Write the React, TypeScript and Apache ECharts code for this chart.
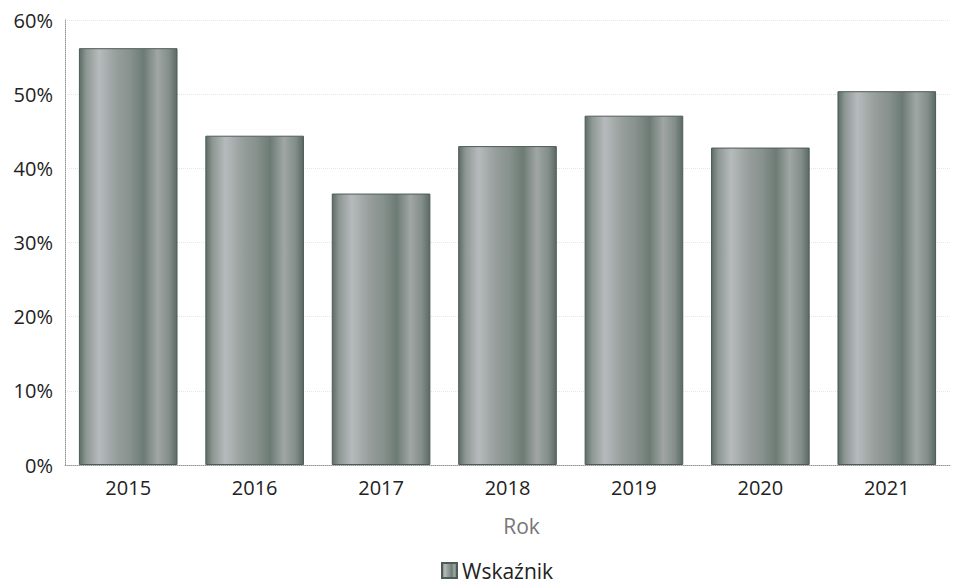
import React, { useEffect, useRef } from "react";
import * as echarts from "echarts";

const years = ["2015", "2016", "2017", "2018", "2019", "2020", "2021"];
const values = [56.2, 44.4, 36.6, 43.0, 47.1, 42.8, 50.4];
const seriesName = "Wskaźnik";
const axisName = "Rok";

export default function App() {
  const ref = useRef<HTMLDivElement>(null);
  useEffect(() => {
    document.body.style.margin = "0";
    if (!ref.current) return;
    const chart = echarts.init(ref.current, null, { renderer: "svg" });
    const barFill = new echarts.graphic.LinearGradient(0, 0, 1, 0, [
      { offset: 0, color: "#5d6c66" },
      { offset: 0.07, color: "#8e9793" },
      { offset: 0.2, color: "#b6babc" },
      { offset: 0.38, color: "#979e9b" },
      { offset: 0.52, color: "#87918d" },
      { offset: 0.66, color: "#6d7b75" },
      { offset: 0.8, color: "#a0a6a4" },
      { offset: 0.92, color: "#838d89" },
      { offset: 1, color: "#5a6963" },
    ]);
    chart.setOption({
      animation: false,
      grid: { left: 65, right: 19, top: 20, bottom: 123, containLabel: false },
      legend: {
        bottom: 2,
        left: 436,
        itemWidth: 15,
        itemHeight: 15,
        itemGap: 6,
        textStyle: { fontSize: 21, color: "#222", fontFamily: "Open Sans" },
        data: [{ name: seriesName, icon: "rect" }],
      },
      xAxis: {
        type: "category",
        data: years,
        name: axisName,
        nameLocation: "middle",
        nameGap: 50,
        nameTextStyle: {
          fontSize: 21,
          color: "#777",
          fontFamily: "Open Sans",
          padding: [0, 0, 0, 28],
        },
        axisLine: { lineStyle: { color: "#999", type: "dotted", width: 1 } },
        axisTick: { show: false },
        axisLabel: { fontSize: 20, color: "#222", margin: 12, fontFamily: "Open Sans" },
      },
      yAxis: {
        type: "value",
        min: 0,
        max: 60,
        interval: 10,
        axisLine: { show: true, lineStyle: { color: "#999", type: "dotted", width: 1 } },
        axisTick: { show: false },
        axisLabel: {
          formatter: "{value}%",
          fontSize: 20,
          color: "#222",
          margin: 12,
          fontFamily: "Open Sans",
        },
        splitLine: { lineStyle: { color: "#e6e6e6", type: "dotted", width: 1 } },
      },
      series: [
        {
          name: seriesName,
          type: "bar",
          data: values,
          barCategoryGap: "22%",
          itemStyle: { color: barFill, borderColor: "#4e5c56", borderWidth: 1 },
        },
      ],
    });
    return () => chart.dispose();
  }, []);
  return <div ref={ref} style={{ width: 969, height: 588 }} />;
}
